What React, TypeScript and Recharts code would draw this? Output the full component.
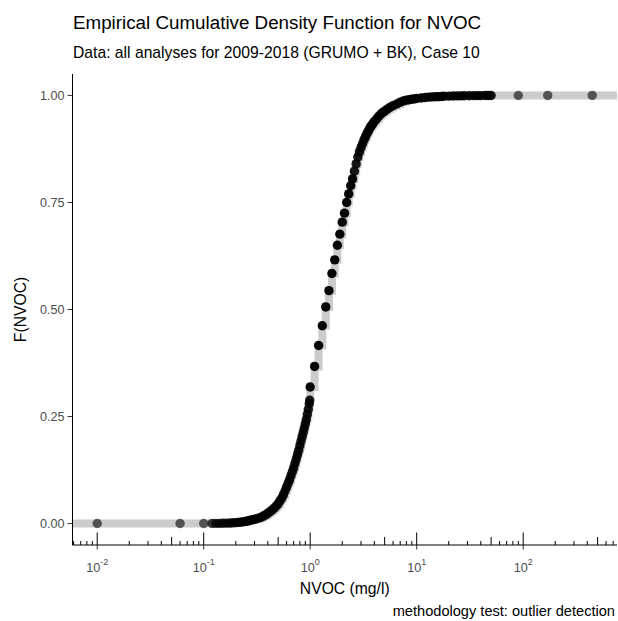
import React from 'react';
import { ComposedChart, Line, XAxis, YAxis } from 'recharts';

// [NVOC (mg/l), F(NVOC)] pairs
const lowOutliers: [number, number][] = [
  [0.01, 0.0001], [0.06, 0.0002], [0.1, 0.0003],
];
const lowTail: [number, number][] = [
  [0.12, 0.0004], [0.13, 0.0005], [0.14, 0.0006], [0.15, 0.0008], [0.16, 0.001],
  [0.17, 0.0012], [0.18, 0.0015], [0.19, 0.0018], [0.2, 0.0022], [0.21, 0.0026],
  [0.22, 0.003], [0.23, 0.0037], [0.24, 0.0045], [0.25, 0.0053], [0.26, 0.0062],
  [0.27, 0.0073], [0.28, 0.0085], [0.29, 0.0092],
];
const lowerRise: [number, number][] = [
  [0.3, 0.01], [0.32, 0.012], [0.34, 0.014], [0.36, 0.017], [0.38, 0.02],
  [0.4, 0.024], [0.42, 0.028], [0.44, 0.032], [0.46, 0.036], [0.48, 0.041],
  [0.5, 0.046], [0.52, 0.053], [0.54, 0.059], [0.56, 0.067], [0.58, 0.076],
  [0.6, 0.085], [0.62, 0.094], [0.64, 0.102], [0.66, 0.112], [0.68, 0.121],
  [0.7, 0.13], [0.72, 0.141], [0.74, 0.151], [0.76, 0.161], [0.78, 0.171],
  [0.8, 0.182], [0.82, 0.193], [0.84, 0.203], [0.86, 0.213], [0.88, 0.223],
  [0.9, 0.233], [0.92, 0.243], [0.94, 0.255], [0.96, 0.267], [0.98, 0.28],
  [0.99, 0.288],
];
const middleSteps: [number, number][] = [
  [1.0, 0.319], [1.1, 0.367], [1.2, 0.416], [1.3, 0.462], [1.4, 0.506],
  [1.5, 0.544], [1.6, 0.584], [1.7, 0.616], [1.8, 0.65], [1.9, 0.676],
  [2.0, 0.704], [2.1, 0.725], [2.2, 0.75], [2.3, 0.77], [2.4, 0.789],
  [2.5, 0.805],
];
const upperTail: [number, number][] = [
  [2.6, 0.823], [2.7, 0.84], [2.8, 0.856], [2.9, 0.868], [3.0, 0.878],
  [3.1, 0.887], [3.2, 0.896], [3.3, 0.903], [3.4, 0.91], [3.5, 0.916],
  [3.6, 0.922], [3.7, 0.927], [3.8, 0.931], [3.9, 0.935], [4.0, 0.939],
  [4.2, 0.945], [4.4, 0.951], [4.6, 0.956], [4.8, 0.96], [5.0, 0.963],
  [5.3, 0.968], [5.6, 0.972], [6.0, 0.976], [6.5, 0.98], [7.0, 0.984],
  [7.5, 0.987], [8.0, 0.989], [8.5, 0.99], [9.0, 0.991], [9.5, 0.992],
  [10, 0.993], [11, 0.994], [12, 0.995], [13, 0.996], [14, 0.9965],
  [15, 0.9968], [16, 0.997], [17, 0.9975], [18, 0.998], [20, 0.9983],
  [22, 0.9986], [24, 0.9988], [26, 0.999], [28, 0.9991], [31, 0.9993],
  [34, 0.9994], [37, 0.9995], [40, 0.9996], [44, 0.9997], [47, 0.99975],
  [50, 0.9998],
];
const highOutliers: [number, number][] = [
  [90, 0.9999], [170, 0.99995], [445, 1.0],
];

const yTicks = [0, 0.25, 0.5, 0.75, 1];
const yTickLabels = ['0.00', '0.25', '0.50', '0.75', '1.00'];
const xTicks = [
  0.006, 0.007, 0.008, 0.009,
  0.01, 0.02, 0.03, 0.04, 0.05, 0.06, 0.07, 0.08, 0.09,
  0.1, 0.2, 0.3, 0.4, 0.5, 0.6, 0.7, 0.8, 0.9,
  1, 2, 3, 4, 5, 6, 7, 8, 9,
  10, 20, 30, 40, 50, 60, 70, 80, 90,
  100, 200, 300, 400, 500, 600, 700,
];

const X_MIN = Math.pow(10, -2.232);
const X_MAX = Math.pow(10, 2.881);

const toPts = (arr: [number, number][], op: number) => arr.map(([x, F]) => ({ x, F, op }));

const points = [
  ...toPts(lowOutliers, 0.6),
  ...toPts(lowTail, 0.75),
  ...toPts(lowerRise, 0.9),
  ...toPts(middleSteps, 0.97),
  ...toPts(upperTail, 0.9),
  ...toPts(highOutliers, 0.6),
];

const stepData = [{ x: X_MIN, F: 0 }, ...points.map(({ x, F }) => ({ x, F })), { x: X_MAX, F: 1 }];

const FONT = '"Liberation Sans", Arial, sans-serif';

const LogTick = (props: any) => {
  const { x, y, payload } = props;
  const v = payload.value as number;
  const exp = Math.floor(Math.log10(v) + 1e-9);
  const mant = Math.round(v / Math.pow(10, exp));
  const len = mant === 1 ? 12.5 : mant === 5 ? 8 : 4;
  return (
    <g>
      <line x1={x} x2={x} y1={y} y2={y - len} stroke="#000" strokeWidth={1} />
      {mant === 1 && <line x1={x} x2={x} y1={y} y2={y + 4.5} stroke="#333" strokeWidth={1} />}
      {mant === 1 && (
        <text x={x} y={y + 26.5} textAnchor="middle" fill="#4d4d4d" fontSize={12.6} fontFamily={FONT}>
          <tspan>10</tspan>
          <tspan dy={-6.5} fontSize={9}>{String(exp)}</tspan>
        </text>
      )}
    </g>
  );
};

const Dot = (p: any) => (
  <circle
    key={`d${p.index}`}
    cx={p.cx}
    cy={p.cy}
    r={4.7}
    fill="#000"
    fillOpacity={p.payload?.op ?? 0.6}
    stroke="none"
  />
);

export default function App() {
  return (
    <div style={{ position: 'absolute', left: 0, top: 0, width: 618, height: 621, background: '#fff', fontFamily: FONT }}>
      <ComposedChart width={618} height={621} margin={{ top: 74, right: 1, bottom: 46, left: 0 }}>
        <XAxis
          dataKey="x"
          type="number"
          scale="log"
          domain={[X_MIN, X_MAX]}
          allowDataOverflow
          ticks={xTicks}
          interval={0}
          tick={<LogTick />}
          tickLine={false}
          tickSize={0}
          tickMargin={0}
          axisLine={{ stroke: '#000', strokeWidth: 1 }}
          height={30}
        />
        <YAxis
          dataKey="F"
          type="number"
          domain={[-0.05, 1.05]}
          allowDataOverflow
          ticks={yTicks}
          interval={0}
          tickFormatter={(v: number) => yTickLabels[yTicks.indexOf(v)] ?? v.toFixed(2)}
          tick={{ fill: '#4d4d4d', fontSize: 12.6, fontFamily: FONT }}
          tickLine={{ stroke: '#333' }}
          tickSize={5}
          tickMargin={3}
          axisLine={{ stroke: '#000', strokeWidth: 1 }}
          width={72.5}
        />
        <Line
          data={stepData}
          dataKey="F"
          type="stepAfter"
          stroke="#cccccc"
          strokeWidth={8}
          dot={false}
          activeDot={false}
          isAnimationActive={false}
        />
        <Line
          data={points}
          dataKey="F"
          type="linear"
          stroke="none"
          dot={<Dot />}
          activeDot={false}
          isAnimationActive={false}
        />
      </ComposedChart>
      <svg width={618} height={621} style={{ position: 'absolute', left: 0, top: 0, pointerEvents: 'none' }}>
        <text x={73} y={29} fontSize={18.8} fill="#000" fontFamily={FONT}>
          Empirical Cumulative Density Function for NVOC
        </text>
        <text x={73} y={58} fontSize={15.7} fill="#000" fontFamily={FONT}>
          Data: all analyses for 2009-2018 (GRUMO + BK), Case 10
        </text>
        <text x={344.75} y={594} fontSize={15.7} fill="#000" textAnchor="middle" fontFamily={FONT}>
          NVOC (mg/l)
        </text>
        <text transform="translate(26,309.5) rotate(-90)" fontSize={15.7} fill="#000" textAnchor="middle" fontFamily={FONT}>
          F(NVOC)
        </text>
        <text x={615} y={616} fontSize={14.6} fill="#000" textAnchor="end" fontFamily={FONT}>
          methodology test: outlier detection
        </text>
      </svg>
    </div>
  );
}
